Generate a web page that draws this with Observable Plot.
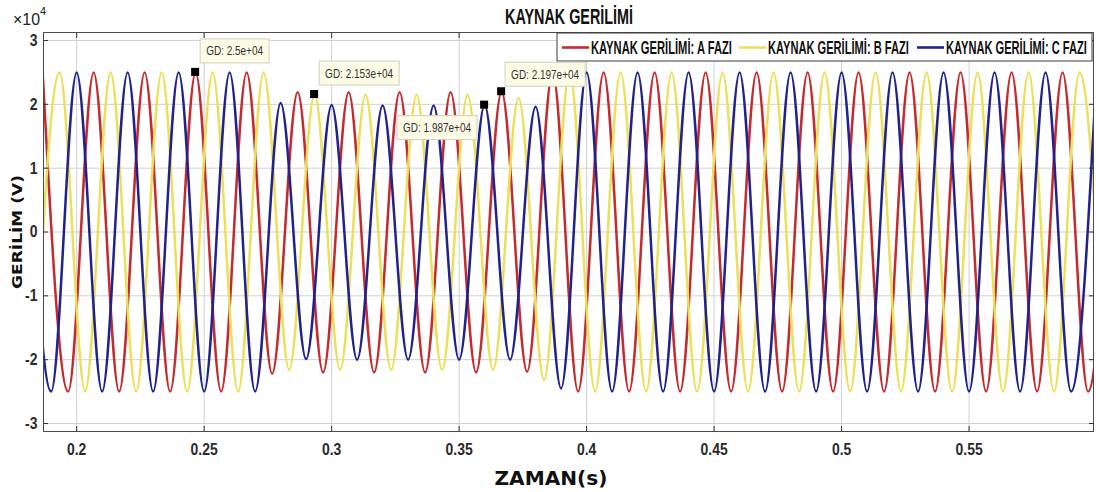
<!DOCTYPE html>
<html>
<head>
<meta charset="utf-8">
<script src="https://cdn.jsdelivr.net/npm/d3@7"></script>
<script src="https://cdn.jsdelivr.net/npm/@observablehq/plot@0.6"></script>
<style>
html, body { margin: 0; padding: 0; background: #fff; }
#chart { position: relative; width: 1096px; height: 492px; overflow: hidden; }
</style>
</head>
<body>
<div id="chart"></div>
<script>
// ---------- data ----------
const title = "KAYNAK GERİLİMİ";
const xLabel = "ZAMAN(s)";
const yLabel = "GERİLİM (V)";
const yExponentBase = "×10";
const yExponent = "4";
const seriesNames = ["KAYNAK GERİLİMİ: A FAZI", "KAYNAK GERİLİMİ: B FAZI", "KAYNAK GERİLİMİ: C FAZI"];
const seriesColors = ["#c42a2e", "#ece05a", "#22228e"];
const xTicks = [0.2, 0.25, 0.3, 0.35, 0.4, 0.45, 0.5, 0.55];
const yTicks = [-3, -2, -1, 0, 1, 2, 3];
const xDomain = [0.187, 0.5988];
const yDomain = [-3.125, 3.125];

// successive extrema (peaks / troughs, ×10^4 V), one every half period (50 Hz)
const halfPeriod = 0.01;
const firstExtremumTime = [0.18667, 0.18333, 0.18];
const extremaA = [2.5, -2.5, 2.5, -2.5, 2.5, -2.5, 2.5, -2.5, 2.5,
  -2.22, 2.19, -2.2, 2.19, -2.2, 2.19, -2.2, 2.19, -2.2, 2.197, -2.19,
  2.5, -2.5, 2.5, -2.5, 2.5, -2.5, 2.5, -2.5, 2.5, -2.5, 2.5, -2.5, 2.5, -2.5, 2.5, -2.5, 2.5, -2.5, 2.5, -2.5, 2.5, -2.5, 2.5];
const extremaB = [-2.5, 2.5, -2.5, 2.5, -2.5, 2.5, -2.5, 2.5, -2.5, 2.5,
  -2.16, 2.153, -2.16, 2.15, -2.16, 2.15, -2.16, 2.15, -2.16, 2.1, -2.32,
  2.5, -2.5, 2.5, -2.5, 2.5, -2.5, 2.5, -2.5, 2.5, -2.5, 2.5, -2.5, 2.5, -2.5, 2.5, -2.5, 2.5, -2.5, 2.5, -2.5, 2.5, -2.5];
const extremaC = [2.5, -2.5, 2.5, -2.5, 2.5, -2.5, 2.5, -2.5, 2.5, -2.5,
  2.02, -1.99, 1.99, -2.0, 1.98, -2.0, 1.98, -2.0, 1.987, -2.0, 1.96, -2.45,
  2.5, -2.5, 2.5, -2.5, 2.5, -2.5, 2.5, -2.5, 2.5, -2.5, 2.5, -2.5, 2.5, -2.5, 2.5, -2.5, 2.5, -2.5, 2.5, -2.5, 2.5];

// data tips ("GD")
const tipTimes = [0.24667, 0.29333, 0.36, 0.36667];
const tipValues = [2.5, 2.153, 1.987, 2.197];
const tipPrefix = "GD: ";

// ---------- build ----------
const allExtrema = [extremaA, extremaB, extremaC];
const rows = [];
allExtrema.forEach((arr, s) => {
  arr.forEach((v, k) => rows.push({t: firstExtremumTime[s] + k * halfPeriod, v, s: seriesNames[s]}));
});

const sans = "'Liberation Sans', Arimo, Arial, sans-serif";
const wide = "'DejaVu Sans', Verdana, sans-serif";

const plot = Plot.plot({
  width: 1096,
  height: 492,
  marginLeft: 43,
  marginRight: 3,
  marginTop: 32,
  marginBottom: 61,
  style: {fontFamily: sans, fontSize: "15px", color: "#222", background: "#fff"},
  x: {domain: xDomain, label: null},
  y: {domain: yDomain, label: null},
  color: {domain: seriesNames, range: seriesColors},
  marks: [
    Plot.gridX(xTicks, {stroke: "#d0d0d0", strokeOpacity: 1, strokeWidth: 1}),
    Plot.gridY(yTicks, {stroke: "#d0d0d0", strokeOpacity: 1, strokeWidth: 1}),
    Plot.line(rows, {x: "t", y: "v", z: "s", stroke: "s", curve: "monotone-x", strokeWidth: 2.5, clip: true}),
    Plot.frame({stroke: "#4a4a4a", strokeWidth: 1}),
    Plot.axisX(xTicks, {anchor: "bottom", tickSize: -5, tickPadding: 16, fontWeight: "bold", fontSize: 17, stroke: "#333", fill: "#2a2a2a", tickFormat: d => String(d), label: null}),
    Plot.axisX(xTicks, {anchor: "top", tickSize: -5, tickFormat: () => "", stroke: "#333", label: null}),
    Plot.axisY(yTicks, {anchor: "left", tickSize: -5, tickPadding: 11, fontWeight: "bold", fontSize: 17, stroke: "#333", fill: "#2a2a2a", tickFormat: d => String(d), label: null}),
    Plot.axisY(yTicks, {anchor: "right", tickSize: -5, tickFormat: () => "", stroke: "#333", label: null})
  ]
});

document.getElementById("chart").appendChild(plot);

const svg = d3.select(plot);

// condense tick labels (narrow font look)
svg.selectAll('g[aria-label="x-axis tick label"] text, g[aria-label="y-axis tick label"] text').each(function () {
  const len = this.getComputedTextLength();
  if (len > 0) d3.select(this).attr("textLength", len * 0.82).attr("lengthAdjust", "spacingAndGlyphs");
});

// ---------- overlays using the plot's own scales ----------
const sx = plot.scale("x");
const sy = plot.scale("y");

function fmtGD(v) {
  const s = (+(v * 1e4).toPrecision(4)).toExponential();
  return s.replace(/e([+-])(\d)$/, "e$10$2");
}

// text drawn at (x, y) and horizontally squeezed to a given width via a transform
function addText(parent, str, opts) {
  const g = parent.append("g");
  const t = g.append("text").text(str)
    .attr("font-family", opts.family || sans)
    .attr("font-size", opts.size)
    .attr("font-weight", opts.weight || "normal")
    .attr("fill", opts.fill || "#111")
    .attr("text-anchor", opts.anchor || "start")
    .attr("x", 0).attr("y", 0);
  const natural = t.node().getComputedTextLength();
  let k = 1;
  if (opts.length) k = opts.length / natural;
  else if (opts.squeeze) k = opts.squeeze;
  let tr = `translate(${opts.x},${opts.y})`;
  if (opts.rotate) tr += ` rotate(${opts.rotate})`;
  tr += ` scale(${k},1)`;
  g.attr("transform", tr);
  return {g, t, width: natural * k};
}

const deco = svg.append("g");
// title
addText(deco, title, {x: 569, y: 23.5, size: 22, weight: "bold", anchor: "middle", length: 128});
// exponent
addText(deco, yExponentBase, {x: 13, y: 25, size: 17, length: 27, fill: "#222"});
addText(deco, yExponent, {x: 40, y: 15, size: 11, fill: "#222"});
// axis labels
addText(deco, xLabel, {x: 551, y: 485, size: 19, weight: "bold", family: wide, anchor: "middle", length: 113});
addText(deco, yLabel, {x: 22, y: 232, size: 14, weight: "bold", family: wide, anchor: "middle", rotate: -90, length: 114});

// legend
const lg = svg.append("g");
lg.append("rect").attr("x", 557).attr("y", 33).attr("width", 535).attr("height", 28)
  .attr("fill", "#fff").attr("stroke", "#3a3a3a").attr("stroke-width", 1);
const legendLineX = [562, 739, 917];
const legendLineLen = 27;
seriesNames.forEach((name, i) => {
  lg.append("line").attr("x1", legendLineX[i]).attr("x2", legendLineX[i] + legendLineLen)
    .attr("y1", 47.5).attr("y2", 47.5).attr("stroke", seriesColors[i]).attr("stroke-width", 2.6);
  addText(lg, name, {x: legendLineX[i] + legendLineLen + 2, y: 54, size: 19, weight: "bold", length: 141});
});

// data tips
const tipPlacement = [
  {dx: 5, dy: -33, side: "right"},
  {dx: 5, dy: -33, side: "right"},
  {dx: -7, dy: 11, side: "left"},
  {dx: 4, dy: -29, side: "right"}
];
const tipSqueeze = 0.74;
const tg = svg.append("g");
tipTimes.forEach((t, i) => {
  const px = sx.apply(t), py = sy.apply(tipValues[i]);
  const p = tipPlacement[i];
  const label = tipPrefix + fmtGD(tipValues[i]);
  const g = tg.append("g");
  const rect = g.append("rect");
  const probe = g.append("text").attr("font-family", sans).attr("font-size", 13.5).text(label);
  const tw = probe.node().getComputedTextLength() * tipSqueeze;
  probe.remove();
  const w = tw + 12, h = 24;
  const bx = p.side === "right" ? px + p.dx : px + p.dx - w;
  const by = py + p.dy;
  rect.attr("x", bx).attr("y", by).attr("width", w).attr("height", h)
    .attr("fill", "#fcfce6").attr("stroke", "#cfcfbd").attr("stroke-width", 1);
  addText(g, label, {x: bx + 6, y: by + h / 2 + 4.5, size: 13.5, fill: "#333", squeeze: tipSqueeze});
  tg.append("rect").attr("x", px - 4).attr("y", py - 4).attr("width", 8).attr("height", 8).attr("fill", "#000");
});
</script>
</body>
</html>
